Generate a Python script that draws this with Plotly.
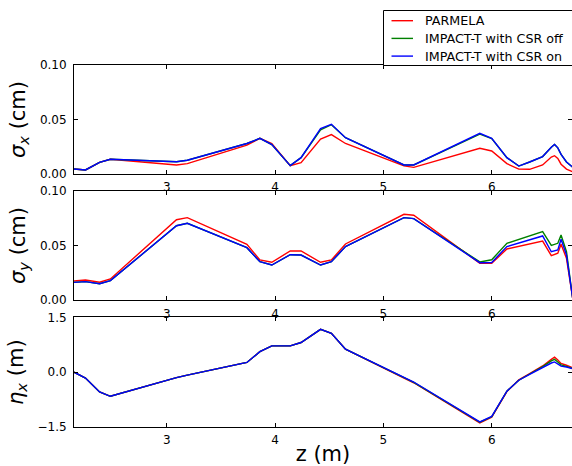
import plotly.graph_objects as go

# Beam-line position (m)
z = [2.144, 2.25, 2.38, 2.48, 3.09, 3.19, 3.74, 3.86, 3.97, 4.14, 4.24, 4.42, 4.52,
     4.65, 5.19, 5.28, 5.89, 6.0, 6.14, 6.25, 6.35, 6.47, 6.55, 6.58, 6.61, 6.64,
     6.69, 6.75]

# Horizontal rms beam size (cm)
sigx_parmela = [0.0046, 0.0037, 0.0107, 0.0135, 0.0083, 0.0095, 0.0265, 0.0327, 0.028,
                0.0077, 0.0104, 0.032, 0.0362, 0.028, 0.0075, 0.0061, 0.0236, 0.0211,
                0.0095, 0.0045, 0.0043, 0.0083, 0.0155, 0.0168, 0.0143, 0.009, 0.0045,
                0.002]
sigx_csr_off = [0.0046, 0.0037, 0.0107, 0.0135, 0.0113, 0.0126, 0.028, 0.0327, 0.027,
                0.0077, 0.015, 0.0405, 0.0452, 0.0333, 0.0083, 0.0083, 0.0365, 0.0325,
                0.015, 0.0073, 0.011, 0.016, 0.0245, 0.027, 0.024, 0.018, 0.011, 0.006]
sigx_csr_on = [0.0046, 0.0037, 0.0107, 0.0135, 0.0113, 0.0126, 0.028, 0.0327, 0.027,
               0.0077, 0.015, 0.0416, 0.0456, 0.0333, 0.0083, 0.0083, 0.0373, 0.0327,
               0.015, 0.0073, 0.011, 0.016, 0.0245, 0.027, 0.024, 0.018, 0.011, 0.006]

# Vertical rms beam size (cm)
sigy_parmela = [0.0176, 0.0185, 0.0165, 0.0195, 0.0735, 0.0754, 0.0511, 0.0368, 0.0347,
                0.045, 0.045, 0.0347, 0.0368, 0.0514, 0.0785, 0.0776, 0.0338, 0.0338,
                0.0468, 0.049, 0.0513, 0.054, 0.0407, 0.0415, 0.0429, 0.0511, 0.0383,
                0.0]
sigy_csr_off = [0.0164, 0.017, 0.0151, 0.018, 0.068, 0.0703, 0.048, 0.0352, 0.0322,
                0.0416, 0.0413, 0.0322, 0.0352, 0.049, 0.0754, 0.0745, 0.035, 0.037,
                0.052, 0.0555, 0.059, 0.0626, 0.050, 0.051, 0.052, 0.0596, 0.0443,
                0.0]
sigy_csr_on = [0.0164, 0.017, 0.0151, 0.018, 0.068, 0.0703, 0.048, 0.0352, 0.0322,
               0.0416, 0.0413, 0.0322, 0.0352, 0.049, 0.0754, 0.0745, 0.0343, 0.0345,
               0.049, 0.0522, 0.0552, 0.0587, 0.0443, 0.045, 0.0459, 0.0557, 0.0413,
               0.0]

# Horizontal dispersion (m)
etax_parmela = [0.0, -0.16, -0.54, -0.66, -0.15, -0.08, 0.266, 0.56, 0.72, 0.72, 0.81,
                1.17, 1.06, 0.63, -0.16, -0.29, -1.39, -1.23, -0.53, -0.21, -0.04, 0.17,
                0.35, 0.41, 0.33, 0.24, 0.19, 0.12]
etax_csr_off = [0.0, -0.16, -0.54, -0.66, -0.15, -0.08, 0.266, 0.56, 0.72, 0.72, 0.81,
                1.17, 1.06, 0.63, -0.15, -0.28, -1.37, -1.22, -0.52, -0.22, -0.05, 0.15,
                0.31, 0.35, 0.28, 0.2, 0.16, 0.1]
etax_csr_on = [0.0, -0.16, -0.54, -0.66, -0.15, -0.08, 0.266, 0.56, 0.72, 0.72, 0.81,
               1.17, 1.06, 0.63, -0.145, -0.27, -1.36, -1.21, -0.52, -0.22, -0.06, 0.13,
               0.25, 0.28, 0.22, 0.165, 0.14, 0.09]

series_names = ["PARMELA", "IMPACT-T with CSR off", "IMPACT-T with CSR on"]
series_colors = ["#ff0000", "#008000", "#0000ff"]

x_ticks = [3, 4, 5, 6]
sig_ticks = [0.0, 0.05, 0.10]
sig_ticktext = ["0.00", "0.05", "0.10"]
eta_ticks = [-1.5, 0.0, 1.5]
eta_ticktext = ["\u22121.5", "0.0", "1.5"]

panels = [
    ([sigx_parmela, sigx_csr_off, sigx_csr_on], "<i>σ<sub>x</sub></i> (cm)",
     [0.0, 0.10], sig_ticks, sig_ticktext, [0.6989, 1.0]),
    ([sigy_parmela, sigy_csr_off, sigy_csr_on], "<i>σ<sub>y</sub></i> (cm)",
     [0.0, 0.10], sig_ticks, sig_ticktext, [0.3500, 0.6528]),
    ([etax_parmela, etax_csr_off, etax_csr_on], "<i>η<sub>x</sub></i> (m)",
     [-1.5, 1.5], eta_ticks, eta_ticktext, [0.0, 0.3030]),
]

FONT = "DejaVu Sans"
fig = go.Figure()
layout = dict(
    width=572, height=466,
    margin=dict(l=74, r=0, t=65, b=39, autoexpand=False),
    paper_bgcolor="white", plot_bgcolor="white",
    font=dict(family=FONT, size=12, color="black"),
    showlegend=False,
)

n = len(panels)
for i, (curves, ytitle, yrange, yt, ytt, dom) in enumerate(panels, start=1):
    xa = "x" if i == 1 else f"x{i}"
    ya = "y" if i == 1 else f"y{i}"
    for vals, name, col in zip(curves, series_names, series_colors):
        fig.add_trace(go.Scatter(x=z, y=vals, mode="lines", name=name,
                                 line=dict(color=col, width=1.4),
                                 xaxis=xa, yaxis=ya, showlegend=False))
    xkey = "xaxis" if i == 1 else f"xaxis{i}"
    ykey = "yaxis" if i == 1 else f"yaxis{i}"
    layout[xkey] = dict(
        domain=[0, 1], anchor=ya, range=[2.144, 6.741],
        tickvals=x_ticks, ticks="inside", ticklen=4, tickcolor="black",
        showline=True, linecolor="black", linewidth=1, mirror="ticks",
        showgrid=False, zeroline=False, tickfont=dict(size=12),
        ticklabelstandoff=2,
    )
    layout[ykey] = dict(
        domain=dom, anchor=xa, range=yrange,
        tickvals=yt, ticktext=ytt, ticks="inside", ticklen=4, tickcolor="black",
        showline=True, linecolor="black", linewidth=1, mirror=False,
        showgrid=False, zeroline=False, tickfont=dict(size=12),
        ticklabelstandoff=4,
        title=dict(text=ytitle, font=dict(size=21), standoff=8),
    )
    # right-hand tick marks (the right spine itself lies past the figure edge)
    rnum = n + i
    layout[f"yaxis{rnum}"] = dict(
        overlaying=ya, side="right", anchor=xa, range=yrange, matches=ya,
        tickvals=yt, ticks="inside", ticklen=4, tickcolor="black",
        showticklabels=False, showline=False, showgrid=False, zeroline=False,
    )
    fig.add_trace(go.Scatter(x=[], y=[], xaxis=xa, yaxis=f"y{rnum}",
                             showlegend=False, hoverinfo="skip"))

layout["xaxis3"]["title"] = dict(text="z (m)", font=dict(size=21), standoff=6)

# Legend box drawn above the top panel
def px_x(p):
    return (p - 74) / 498.0

def px_y(p):
    return (427 - p) / 362.0

shapes = [dict(type="rect", xref="paper", yref="paper",
               x0=px_x(383.5), x1=px_x(640), y0=px_y(65.5), y1=px_y(10.5),
               line=dict(color="black", width=1), fillcolor="white", layer="above")]
annotations = []
for k, (name, col) in enumerate(zip(series_names, series_colors)):
    yy = px_y(20.7 + 17.7 * k)
    shapes.append(dict(type="line", xref="paper", yref="paper",
                       x0=px_x(391.5), x1=px_x(413), y0=yy, y1=yy,
                       line=dict(color=col, width=1.4), layer="above"))
    annotations.append(dict(xref="paper", yref="paper", x=px_x(423), y=yy,
                            xanchor="left", yanchor="middle", showarrow=False,
                            text=name, font=dict(size=12.7, color="black")))
layout["shapes"] = shapes
layout["annotations"] = annotations

fig.update_layout(**layout)
fig.write_html("out.html")
